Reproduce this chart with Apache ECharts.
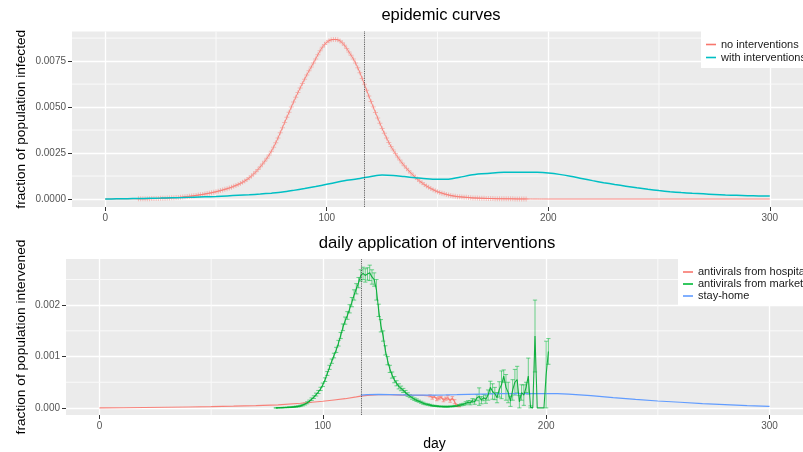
<!DOCTYPE html>
<html><head><meta charset="utf-8">
<script src="https://cdn.jsdelivr.net/npm/echarts@6/dist/echarts.min.js"></script>
<style>html,body{margin:0;padding:0;background:#fff}#c{width:803px;height:452px}</style>
</head><body><div id="c"></div>
<script>
// ---------- DATA (values in units of 1e-3 = fraction of population) ----------
const UNIT = 1e-3;
const interventionDay = 117;
const xTicks = [0, 100, 200, 300];
const xMinor = [50, 150, 250];
const topYTicks = [0, 0.0025, 0.005, 0.0075];
const topYMinor = [0.00125, 0.00375, 0.00625, 0.00875];
const botYTicks = [0, 0.001, 0.002];
const botYMinor = [0.0005, 0.0015, 0.0025];

// epidemic curve, no interventions: daily from day 0 to day 200, then flat to 300
const noIntStartDay = 0;
const noInterventions = [
 0,0,0.001,0.001,0.002,0.002,0.003,0.003,0.004,0.004,
 0.005,0.006,0.007,0.008,0.009,0.010,0.012,0.014,0.016,0.018,
 0.020,0.023,0.026,0.030,0.034,0.038,0.042,0.047,0.052,0.057,
 0.063,0.070,0.078,0.087,0.097,0.108,0.120,0.133,0.147,0.162,
 0.178,0.195,0.213,0.232,0.252,0.273,0.295,0.318,0.342,0.368,
 0.395,0.425,0.457,0.490,0.525,0.560,0.600,0.640,0.690,0.740,
 0.79,0.85,0.91,0.98,1.06,1.15,1.25,1.36,1.48,1.61,
 1.75,1.90,2.05,2.22,2.40,2.60,2.82,3.06,3.32,3.60,
 3.88,4.16,4.44,4.72,5.00,5.27,5.53,5.79,6.04,6.28,
 6.52,6.75,6.97,7.18,7.40,7.62,7.85,8.06,8.25,8.40,
 8.52,8.61,8.66,8.68,8.68,8.66,8.60,8.50,8.36,8.19,
 8.00,7.82,7.62,7.40,7.14,6.86,6.56,6.24,5.92,5.60,
 5.30,5.00,4.70,4.41,4.12,3.84,3.57,3.32,3.08,2.86,
 2.66,2.47,2.29,2.12,1.96,1.81,1.67,1.54,1.41,1.29,
 1.18,1.07,0.97,0.88,0.79,0.71,0.64,0.57,0.51,0.45,
 0.40,0.36,0.32,0.28,0.25,0.22,0.19,0.17,0.15,0.13,
 0.12,0.11,0.10,0.09,0.08,0.07,0.06,0.055,0.05,0.045,
 0.040,0.036,0.032,0.029,0.026,0.023,0.020,0.018,0.016,0.014,
 0.012,0.011,0.010,0.009,0.008,0.007,0.006,0.005,0.005,0.004,
 0.004,0.003,0.003,0.002,0.002,0.002,0.001,0.001,0.001,0.001,0
];
const noIntTailDays = [300];
const noIntTail = [0];
const noIntMarkerRange = [15, 190];

// epidemic curve, with interventions (every 5 days)
const withIntDays = [0,5,10,15,20,25,30,35,40,45,50,55,60,65,70,75,80,85,90,95,100,105,110,115,120,125,130,135,140,145,150,155,160,165,170,175,180,185,190,195,200,205,210,215,220,225,230,235,240,245,250,255,260,265,270,275,280,285,290,295,300];
const withInterventions = [0.00,0.01,0.02,0.03,0.04,0.05,0.07,0.08,0.10,0.12,0.14,0.17,0.20,0.23,0.27,0.32,0.38,0.47,0.57,0.68,0.80,0.92,1.03,1.12,1.22,1.30,1.28,1.22,1.16,1.10,1.07,1.08,1.18,1.30,1.37,1.42,1.45,1.46,1.46,1.45,1.41,1.34,1.24,1.12,1.00,0.89,0.79,0.70,0.61,0.53,0.46,0.40,0.35,0.31,0.28,0.25,0.22,0.20,0.18,0.17,0.16];

// daily application: antivirals from hospital
const hospDays = [0,10,20,30,40,50,60,70,80,90,100,105,110,115,117,120,125,130,135,140,145,148,149,150,151,152,153,154,155,156,157,158,159,160,161];
const hospital = [0,0.003,0.007,0.012,0.018,0.025,0.034,0.045,0.06,0.09,0.13,0.155,0.18,0.215,0.23,0.245,0.255,0.255,0.25,0.248,0.245,0.235,0.20,0.22,0.17,0.19,0.21,0.15,0.18,0.20,0.14,0.19,0.12,0.05,0.03];
const hospitalErr = [0,0,0,0,0,0,0,0,0,0,0,0,0,0,0,0,0,0,0,0,0,0.02,0.03,0.02,0.03,0.03,0.02,0.03,0.03,0.04,0.03,0.03,0.04,0.02,0.01];

// antivirals from market: daily from day 79 to 201
const marketStartDay = 79;
const market = [
 0.000,0.002,0.004,0.006,0.008,0.010,0.013,0.016,0.020,0.025,0.030,0.040,
 0.055,0.075,0.10,0.13,0.17,0.21,0.26,0.31,0.37,0.45,
 0.55,0.67,0.79,0.91,1.02,1.13,1.26,1.41,1.57,1.70,
 1.80,1.93,2.06,2.20,2.32,2.44,2.58,2.62,2.58,2.61,
 2.63,2.55,2.50,2.30,1.90,1.60,1.40,1.12,0.92,0.76,
 0.64,0.55,0.48,0.42,0.38,0.34,0.30,0.26,0.23,0.20,
 0.17,0.15,0.13,0.11,0.09,0.075,0.065,0.055,0.045,0.04,
 0.035,0.03,0.028,0.026,0.025,0.025,0.028,0.03,0.035,
 0.04,0.05,0.06,0.07,0.09,0.11,0.10,0.14,0.12,0.20,
 0.22,0.15,0.20,0.17,0.25,0.40,0.32,0.28,0.20,0.36,
 0.45,0.62,0.40,0.30,0.13,0.35,0.50,0.55,0.12,0.30,
 0.25,0.40,0.62,0.02,0.00,1.40,0.00,0.00,0.00,0.00,
 0.65,1.10
];
const marketErr = [
 0.003,0.003,0.004,0.005,0.005,0.006,0.007,0.008,0.009,0.010,0.012,0.014,
 0.016,0.018,0.020,0.022,0.024,0.026,0.028,0.030,0.032,0.034,
 0.036,0.038,0.040,0.042,0.045,0.050,0.055,0.060,0.065,0.070,
 0.075,0.080,0.090,0.100,0.100,0.100,0.110,0.120,0.130,0.120,
 0.150,0.140,0.130,0.200,0.120,0.120,0.100,0.090,0.080,0.070,
 0.060,0.060,0.050,0.050,0.045,0.040,0.040,0.035,0.030,0.030,
 0.025,0.025,0.020,0.020,0.020,0.015,0.015,0.015,0.012,0.012,
 0.010,0.010,0.010,0.010,0.010,0.010,0.010,0.010,0.010,
 0.010,0.015,0.020,0.020,0.030,0.030,0.040,0.040,0.050,0.060,
 0.170,0.070,0.060,0.080,0.100,0.120,0.150,0.120,0.100,0.150,
 0.270,0.120,0.250,0.200,0.100,0.200,0.250,0.260,0.120,0.150,
 0.200,0.100,0.350,0.020,0.000,0.700,0.000,0.000,0.000,0.000,
 0.650,0.250
];

// stay-home
const stayDays = [117,120,125,130,135,140,145,150,155,160,165,170,175,180,185,190,195,200,205,210,220,230,240,250,260,270,280,290,300];
const stayHome = [0.25,0.26,0.262,0.26,0.255,0.25,0.248,0.248,0.252,0.258,0.265,0.27,0.275,0.278,0.28,0.28,0.28,0.28,0.278,0.27,0.24,0.20,0.165,0.135,0.11,0.085,0.065,0.045,0.03];

// ---------- BUILD ----------
const FONT = 'Liberation Sans, Arial, sans-serif';
const RED = '#F8766D', GREEN = '#00BA38', BLUE = '#619CFF', TEAL = '#00BFC4';

const noIntData = noInterventions.map((v, i) => [noIntStartDay + i, v * UNIT])
  .concat(noIntTailDays.map((d, i) => [d, noIntTail[i] * UNIT]));
const noIntMarkers = noIntData.filter(p => p[0] >= noIntMarkerRange[0] && p[0] <= noIntMarkerRange[1]);
const withIntData = withIntDays.map((d, i) => [d, withInterventions[i] * UNIT]);
const hospData = hospDays.map((d, i) => [d, hospital[i] * UNIT]);
const hospErrData = hospDays.map((d, i) => [d, (hospital[i] - hospitalErr[i]) * UNIT, (hospital[i] + hospitalErr[i]) * UNIT, hospitalErr[i]]).filter(p => p[3] > 0);
const marketData = market.map((v, i) => [marketStartDay + i, v * UNIT]);
const marketErrData = market.map((v, i) => [marketStartDay + i, (v - marketErr[i]) * UNIT, (v + marketErr[i]) * UNIT, marketErr[i]]).filter(p => p[3] > 0);
const stayData = stayDays.map((d, i) => [d, stayHome[i] * UNIT]);

function errorBars(color, capDays) {
  return function (params, api) {
    const x = api.value(0), lo = api.value(1), hi = api.value(2);
    const a = api.coord([x, lo]), b = api.coord([x, hi]);
    const half = api.size([capDays, 0])[0] / 2;
    const style = { stroke: color, lineWidth: 1, fill: null };
    return { type: 'group', children: [
      { type: 'line', shape: { x1: a[0], y1: a[1], x2: b[0], y2: b[1] }, style },
      { type: 'line', shape: { x1: a[0] - half, y1: a[1], x2: a[0] + half, y2: a[1] }, style },
      { type: 'line', shape: { x1: b[0] - half, y1: b[1], x2: b[0] + half, y2: b[1] }, style }
    ]};
  };
}

function majorX(g, name) {
  return { gridIndex: g, type: 'value', min: -15, max: 315, position: 'bottom',
    name: name || '', nameLocation: 'middle', nameGap: 22, nameMoveOverlap: false,
    nameTextStyle: { fontSize: 14, color: '#000', fontFamily: FONT },
    axisLine: { show: false, onZero: false },
    axisTick: { show: true, length: 4, lineStyle: { color: '#333' }, customValues: xTicks },
    axisLabel: { customValues: xTicks, color: '#555', fontSize: 10, margin: 6, fontFamily: FONT },
    splitLine: { show: true, lineStyle: { color: '#fff', width: 1.3 } } };
}
function majorY(g, min, max, ticks, digits, name, gap) {
  return { gridIndex: g, type: 'value', min, max, position: 'left',
    name, nameLocation: 'middle', nameGap: gap, nameMoveOverlap: false,
    nameTextStyle: { fontSize: 13.7, color: '#000', fontFamily: FONT },
    axisLine: { show: false, onZero: false },
    axisTick: { show: true, length: 4, lineStyle: { color: '#333' }, customValues: ticks },
    axisLabel: { customValues: ticks, color: '#555', fontSize: 10, margin: 6, fontFamily: FONT,
      formatter: v => Number(v).toFixed(digits) },
    splitLine: { show: true, lineStyle: { color: '#fff', width: 1.3 } } };
}
// minor grid lines: custom series, each line placed through the axis scale
function minorGrid(xi, yi, xs, ys) {
  const data = xs.map(v => [v, 0, 0]).concat(ys.map(v => [xTicks[0], v, 1]));
  return { type: 'custom', name: 'minor grid', xAxisIndex: xi, yAxisIndex: yi, data, z: 1, silent: true,
    encode: { x: 0, y: 1 },
    renderItem: function (params, api) {
      const cs = params.coordSys;
      const p = api.coord([api.value(0), api.value(1)]);
      const shape = api.value(2) === 0
        ? { x1: p[0], y1: cs.y, x2: p[0], y2: cs.y + cs.height }
        : { x1: cs.x, y1: p[1], x2: cs.x + cs.width, y2: p[1] };
      return { type: 'line', shape, style: { stroke: '#FAFAFA', lineWidth: 1 } };
    } };
}

const vline = { silent: true, symbol: ['none', 'none'], label: { show: false },
  lineStyle: { type: 'dotted', color: '#444', width: 0.9 }, data: [{ xAxis: interventionDay }] };

const chart = echarts.init(document.getElementById('c'), null, { renderer: 'canvas' });
chart.setOption({
  animation: false,
  backgroundColor: '#fff',
  title: [
    { text: 'epidemic curves', left: 441, top: 7, padding: 0, textAlign: 'center',
      textStyle: { fontSize: 16.5, fontWeight: 'normal', color: '#000', fontFamily: FONT } },
    { text: 'daily application of interventions', left: 437, top: 235, padding: 0, textAlign: 'center',
      textStyle: { fontSize: 16.7, fontWeight: 'normal', color: '#000', fontFamily: FONT } }
  ],
  legend: [
    { orient: 'vertical', left: 701, top: 31, padding: [7, 40, 4, 5], itemGap: 0,
      itemWidth: 10, itemHeight: 1.6, icon: 'rect', backgroundColor: '#fff', selectedMode: false,
      textStyle: { fontSize: 11, lineHeight: 13, color: '#1a1a1a', fontFamily: FONT },
      data: ['no interventions', 'with interventions'] },
    { orient: 'vertical', left: 678, top: 259, padding: [7, 40, 4, 5], itemGap: 0,
      itemWidth: 10, itemHeight: 1.6, icon: 'rect', backgroundColor: '#fff', selectedMode: false,
      textStyle: { fontSize: 11, lineHeight: 12, color: '#1a1a1a', fontFamily: FONT },
      data: ['antivirals from hospital', 'antivirals from market', 'stay-home'] }
  ],
  grid: [
    { left: 72, top: 31.5, width: 738, height: 175.5, show: true, backgroundColor: '#EBEBEB', borderWidth: 0 },
    { left: 66, top: 259, width: 743, height: 156.7, show: true, backgroundColor: '#EBEBEB', borderWidth: 0 }
  ],
  xAxis: [ majorX(0), majorX(1, 'day') ],
  yAxis: [
    majorY(0, -0.000434, 0.00911, topYTicks, 4, 'fraction of population infected', 44),
    majorY(1, -0.000138, 0.0029, botYTicks, 3, 'fraction of population intervened', 38)
  ],
  series: [
    minorGrid(0, 0, xMinor, topYMinor),
    minorGrid(1, 1, xMinor, botYMinor),
    { name: 'no interventions', type: 'line', xAxisIndex: 0, yAxisIndex: 0, data: noIntData,
      showSymbol: false, color: RED, lineStyle: { color: 'rgba(248,118,109,0.85)', width: 1 } },
    { name: 'no interventions (points)', type: 'scatter', xAxisIndex: 0, yAxisIndex: 0, data: noIntMarkers,
      silent: true, symbol: 'path://M-1,-0.2 H1 V0.2 H-1 Z M-0.2,-1 H0.2 V1 H-0.2 Z', symbolSize: 5,
      itemStyle: { color: 'rgba(248,118,109,0.55)' } },
    { name: 'with interventions', type: 'line', xAxisIndex: 0, yAxisIndex: 0, data: withIntData,
      smooth: 0.3, showSymbol: false, color: TEAL, lineStyle: { color: TEAL, width: 1.5 }, markLine: vline },

    { name: 'antivirals from hospital', type: 'line', xAxisIndex: 1, yAxisIndex: 1, data: hospData,
      showSymbol: false, color: RED, lineStyle: { color: 'rgba(248,118,109,0.9)', width: 1.1 }, markLine: vline },
    { name: 'hospital err', type: 'custom', xAxisIndex: 1, yAxisIndex: 1, data: hospErrData, silent: true,
      encode: { x: 0, y: [1, 2] }, renderItem: errorBars('rgba(248,118,109,0.6)', 1.6) },
    { name: 'stay-home', type: 'line', xAxisIndex: 1, yAxisIndex: 1, data: stayData,
      showSymbol: false, color: BLUE, lineStyle: { color: BLUE, width: 1.2 } },
    { name: 'market err', type: 'custom', xAxisIndex: 1, yAxisIndex: 1, data: marketErrData, silent: true,
      encode: { x: 0, y: [1, 2] }, renderItem: errorBars('rgba(0,186,56,0.55)', 1.9) },
    { name: 'antivirals from market', type: 'line', xAxisIndex: 1, yAxisIndex: 1, data: marketData,
      showSymbol: false, color: GREEN, lineStyle: { color: 'rgba(0,170,50,0.9)', width: 1.1 } }
  ]
});
</script></body></html>
